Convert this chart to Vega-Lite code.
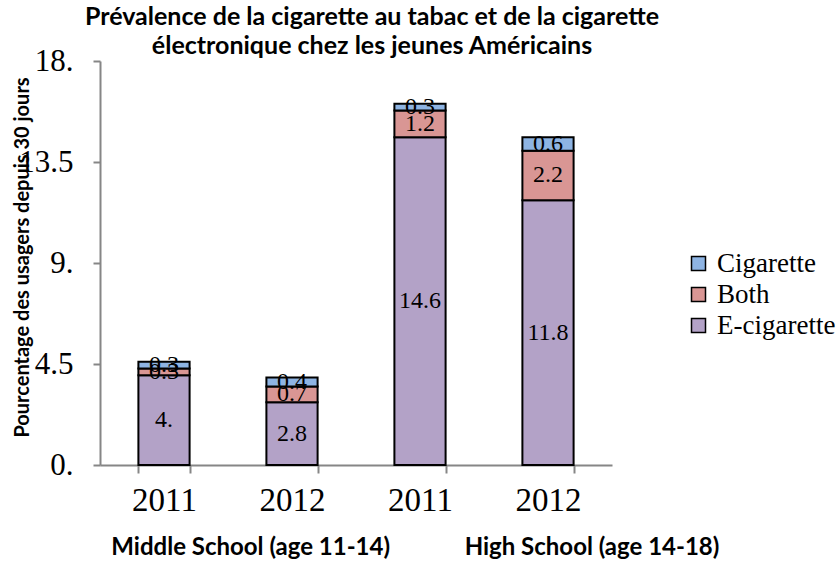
{
  "$schema": "https://vega.github.io/schema/vega-lite/v6.json",
  "width": 512,
  "height": 404,
  "autosize": {"type": "none"},
  "padding": {"left": 100, "top": 61, "right": 226, "bottom": 98},
  "background": "white",
  "title": {
    "text": ["Prévalence de la cigarette au tabac et de la cigarette", "électronique chez les jeunes Américains"],
    "font": "Lato",
    "fontSize": 25,
    "fontWeight": "bold",
    "color": "black",
    "anchor": "middle",
    "lineHeight": 29,
    "dx": 16,
    "offset": -14
  },
  "config": {
    "view": {"stroke": null},
    "axis": {"grid": false}
  },
  "data": {
    "values": [
      {"cat": "2011 MS", "group": "Middle School (age 11-14)", "type": "E-cigarette", "value": 4.0},
      {"cat": "2011 MS", "group": "Middle School (age 11-14)", "type": "Both", "value": 0.3},
      {"cat": "2011 MS", "group": "Middle School (age 11-14)", "type": "Cigarette", "value": 0.3},
      {"cat": "2012 MS", "group": "Middle School (age 11-14)", "type": "E-cigarette", "value": 2.8},
      {"cat": "2012 MS", "group": "Middle School (age 11-14)", "type": "Both", "value": 0.7},
      {"cat": "2012 MS", "group": "Middle School (age 11-14)", "type": "Cigarette", "value": 0.4},
      {"cat": "2011 HS", "group": "High School (age 14-18)", "type": "E-cigarette", "value": 14.6},
      {"cat": "2011 HS", "group": "High School (age 14-18)", "type": "Both", "value": 1.2},
      {"cat": "2011 HS", "group": "High School (age 14-18)", "type": "Cigarette", "value": 0.3},
      {"cat": "2012 HS", "group": "High School (age 14-18)", "type": "E-cigarette", "value": 11.8},
      {"cat": "2012 HS", "group": "High School (age 14-18)", "type": "Both", "value": 2.2},
      {"cat": "2012 HS", "group": "High School (age 14-18)", "type": "Cigarette", "value": 0.6}
    ]
  },
  "layer": [
    {
      "layer": [
        {
          "transform": [
            {"stack": "value", "groupby": ["cat"], "as": ["v0", "v1"]}
          ],
          "mark": {"type": "bar", "stroke": "black", "strokeWidth": 2},
          "encoding": {
            "x": {
              "field": "cat",
              "type": "nominal",
              "sort": null,
              "scale": {"paddingInner": 0.6, "paddingOuter": 0.3},
              "axis": {
                "title": null,
                "labelExpr": "slice(datum.label, 0, 4)",
                "labelAngle": 0,
                "labelFont": "Liberation Serif",
                "labelFontSize": 33,
                "labelColor": "black",
                "labelPadding": 11,
                "tickBand": "extent",
                "tickSize": 8,
                "tickColor": "#868686",
                "tickWidth": 2,
                "domainColor": "#868686",
                "domainWidth": 2
              }
            },
            "y": {
              "field": "v0",
              "type": "quantitative",
              "scale": {"domain": [0, 18], "nice": false},
              "axis": {
                "values": [0, 4.5, 9, 13.5, 18],
                "format": ".1~f",
                "labelExpr": "datum.value % 1 ? datum.label : datum.value + '.'",
                "labelFont": "Liberation Serif",
                "labelFontSize": 31,
                "labelColor": "black",
                "labelPadding": 20,
                "tickSize": 7,
                "tickColor": "#868686",
                "tickWidth": 2,
                "domainColor": "#868686",
                "domainWidth": 2,
                "title": "Pourcentage des usagers depuis 30 jours",
                "titleFont": "Lato",
                "titleFontSize": 20,
                "titleFontWeight": "bold",
                "titleColor": "black",
                "titleX": -68,
                "titleY": 196
              }
            },
            "y2": {"field": "v1"},
            "color": {
              "field": "type",
              "type": "nominal",
              "scale": {
                "domain": ["Cigarette", "Both", "E-cigarette"],
                "range": ["#8eb4e3", "#d99694", "#b3a2c7"]
              },
              "legend": {
                "title": null,
                "orient": "none",
                "legendX": 585,
                "legendY": 189,
                "symbolType": "square",
                "symbolSize": 196,
                "symbolStrokeColor": "black",
                "symbolStrokeWidth": 1.5,
                "symbolOpacity": 1,
                "labelFont": "Liberation Serif",
                "labelFontSize": 27,
                "labelColor": "black",
                "labelOffset": 5,
                "rowPadding": 3
              }
            }
          }
        },
        {
          "mark": {
            "type": "text",
            "font": "Liberation Serif",
            "fontSize": 24,
            "baseline": "middle",
            "text": {"expr": "datum.value % 1 ? format(datum.value, '.1f') : datum.value + '.'"}
          },
          "encoding": {
            "x": {"field": "cat", "type": "nominal", "sort": null},
            "y": {"field": "value", "type": "quantitative", "stack": "zero", "bandPosition": 0.5},
            "color": {"field": "type", "type": "nominal", "legend": null},
            "fill": {"value": "black"}
          }
        }
      ]
    },
    {
      "mark": {"type": "tick", "opacity": 0},
      "encoding": {
        "x": {
          "field": "group",
          "type": "nominal",
          "sort": null,
          "scale": {"type": "point", "padding": 0.25, "align": 0.88},
          "axis": {
            "orient": "bottom",
            "title": null,
            "labelAngle": 0,
            "labelFont": "Lato",
            "labelFontSize": 24,
            "labelFontWeight": "bold",
            "labelColor": "black",
            "labelPadding": 70,
            "labelLimit": 0,
            "labelOverlap": false,
            "ticks": false,
            "domain": false
          }
        }
      }
    }
  ],
  "resolve": {"scale": {"x": "independent"}, "axis": {"x": "independent"}}
}
